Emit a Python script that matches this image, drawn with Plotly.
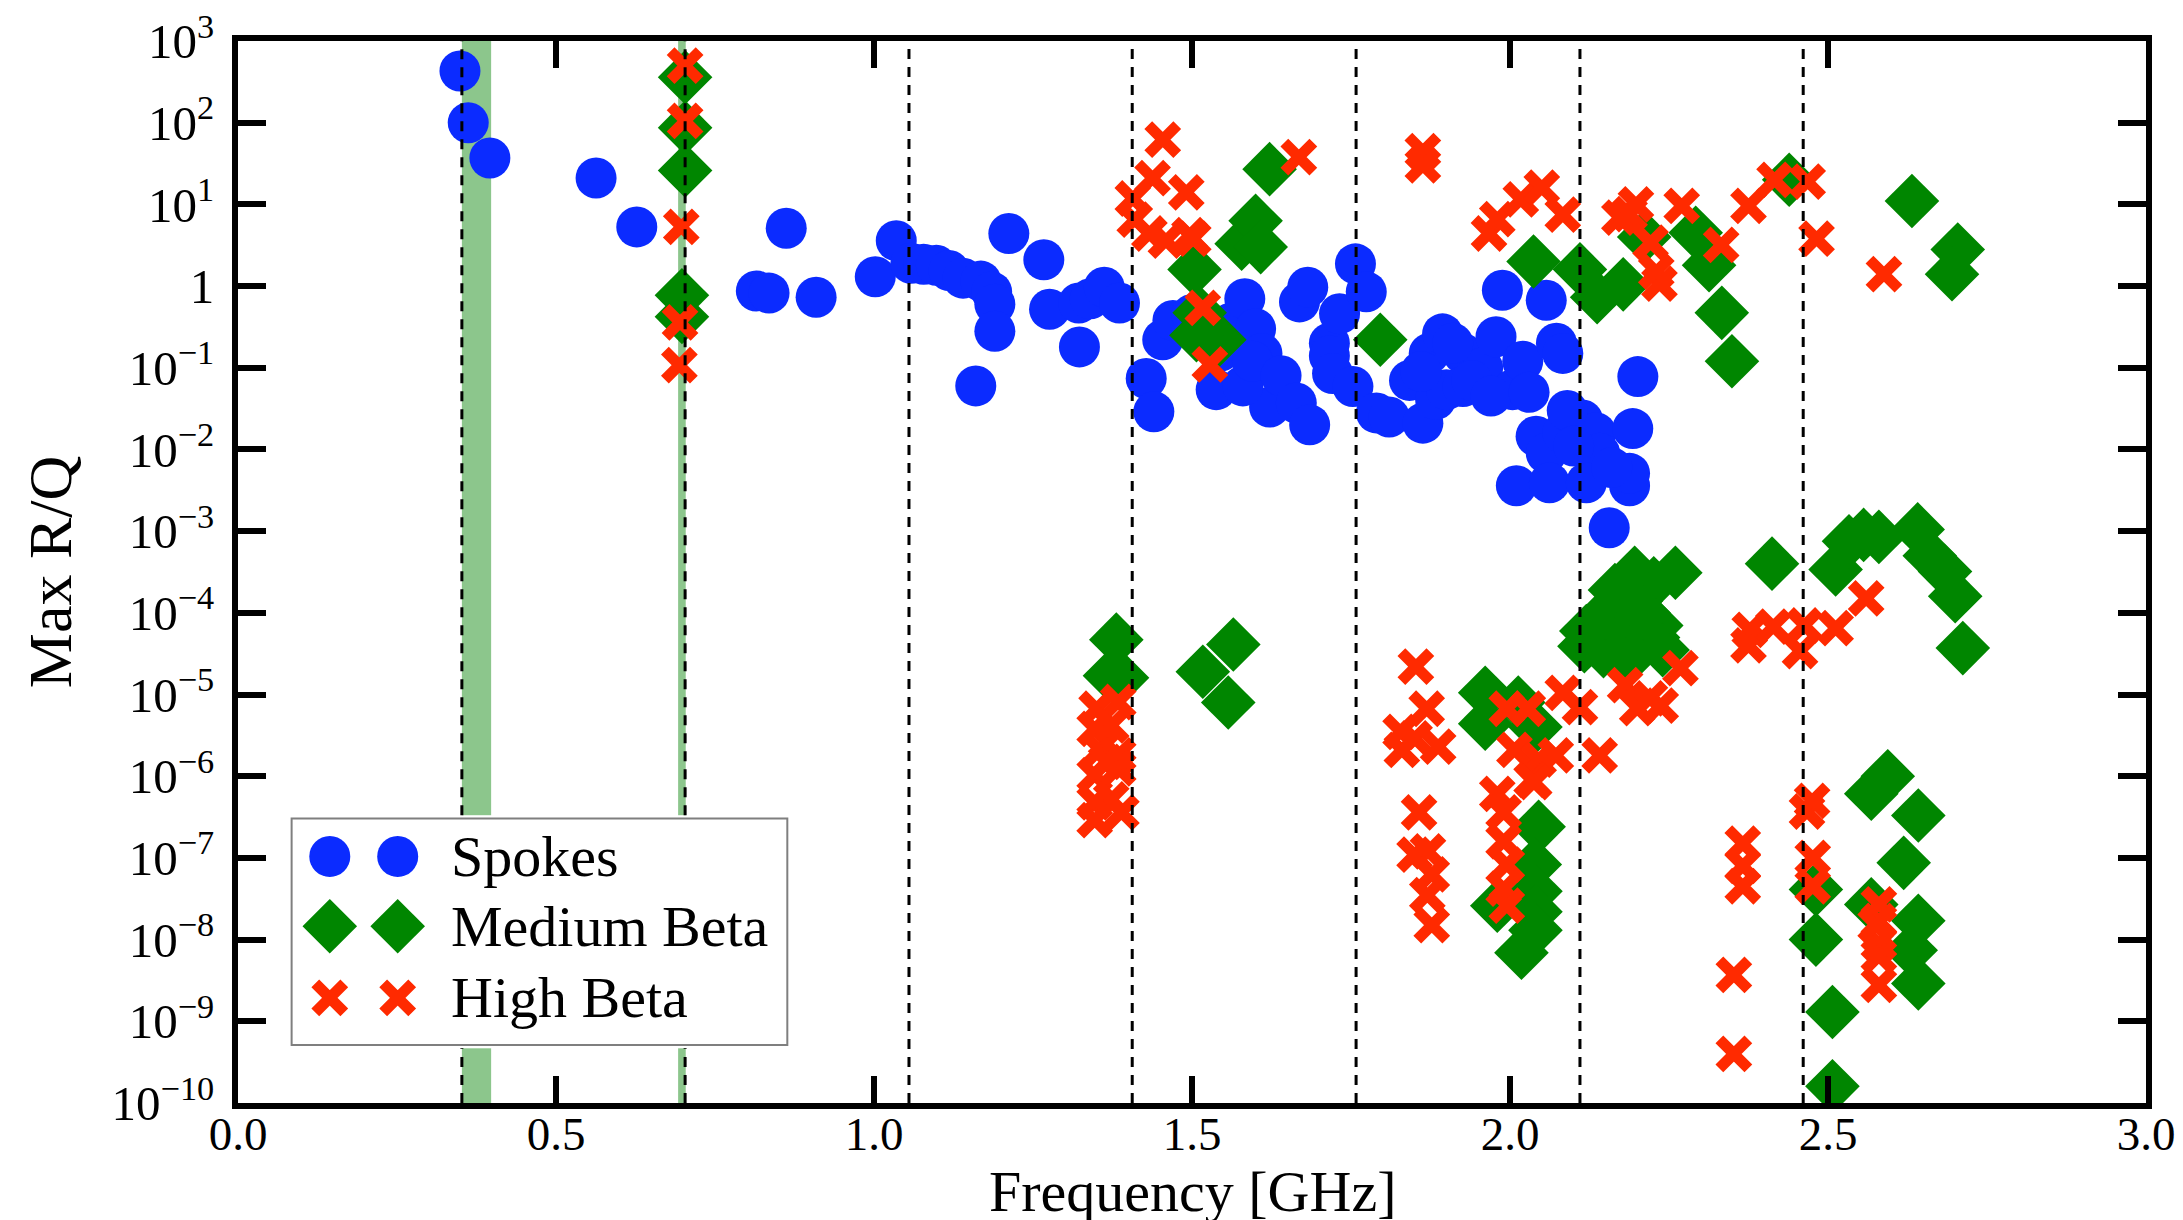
import plotly.graph_objects as go

# ---------------- data ----------------
spokes_f = [0.349, 0.362, 0.396, 0.563, 0.627, 0.815, 0.835, 0.862, 0.909,
            1.002, 1.035, 1.058, 1.078, 1.098, 1.118, 1.140, 1.168, 1.185, 1.190, 1.190, 1.160,
            1.212, 1.267, 1.276, 1.322, 1.323, 1.340, 1.362, 1.386,
            1.428, 1.440, 1.454, 1.470, 1.500, 1.515, 1.538, 1.545, 1.560, 1.583, 1.600,
            1.610, 1.622, 1.580, 1.595, 1.640, 1.664, 1.669, 1.682, 1.685, 1.716, 1.716,
            1.721, 1.732, 1.753, 1.757, 1.774, 1.790, 1.810, 1.842, 1.863, 1.873, 1.883,
            1.894, 1.900, 1.926, 1.926, 1.957, 1.978, 1.988, 2.004, 2.020, 2.041, 2.057,
            2.057, 2.073, 2.083, 2.083, 2.114, 2.135, 2.141, 2.010, 2.062, 2.120, 2.188,
            2.188, 2.156, 2.201, 2.193, 1.860, 1.910, 1.940, 1.970, 2.030, 2.090, 2.100, 2.160]
spokes_rq = [430, 100, 37, 21, 5.3, 0.87, 0.82, 5.1, 0.73,
             1.3, 3.6, 1.9, 1.85, 1.8, 1.55, 1.25, 1.15, 0.85, 0.6, 0.28, 0.06,
             4.4, 2.1, 0.52, 0.62, 0.18, 0.7, 0.97, 0.62,
             0.074, 0.029, 0.22, 0.38, 0.45, 0.25, 0.054, 0.16, 0.35, 0.7, 0.3,
             0.15, 0.033, 0.06, 0.12, 0.08, 0.037, 0.64, 0.97, 0.02, 0.2, 0.14,
             0.085, 0.46, 0.059, 1.87, 0.85, 0.028, 0.025, 0.07, 0.021, 0.15, 0.041,
             0.26, 0.054, 0.15, 0.059, 0.10, 0.24, 0.89, 0.054, 0.12, 0.0145, 0.67,
             0.009, 0.2, 0.15, 0.016, 0.023, 0.016, 0.009, 0.0036, 0.0039, 0.0039, 0.0036,
             0.0051, 0.0011, 0.078, 0.018, 0.09, 0.2, 0.07, 0.045, 0.05, 0.03, 0.011, 0.006]

medium_f = [0.703, 0.703, 0.703, 0.698, 0.698,
            1.504, 1.512, 1.543, 1.507, 1.578, 1.600, 1.608, 1.622, 1.796,
            2.037, 2.110, 2.137, 2.178, 2.211, 2.292, 2.313, 2.333, 2.349,
            2.439, 2.632, 2.704, 2.695,
            1.381, 1.371, 1.390, 1.565, 1.517, 1.557,
            1.961, 1.961, 2.013, 2.040,
            2.045, 2.039, 2.040, 2.040, 2.040, 2.018, 1.980,
            2.117, 2.120, 2.147, 2.175, 2.198, 2.180, 2.204, 2.225, 2.196, 2.226, 2.260,
            2.180, 2.150, 2.165, 2.185, 2.210, 2.230, 2.240,
            2.412, 2.512, 2.533, 2.556, 2.580, 2.641, 2.660, 2.684, 2.700, 2.712,
            2.594, 2.568, 2.642, 2.619, 2.481, 2.568, 2.642, 2.630, 2.642, 2.481,
            2.507, 2.507]
medium_rq = [360, 87, 26, 0.77, 0.42,
             1.6, 0.47, 0.22, 0.25, 3.3, 6.3, 3.0, 27, 0.22,
             2.0, 1.6, 0.73, 1.05, 4.0, 4.5, 1.8, 0.47, 0.12,
             20, 11, 2.8, 1.4,
             4.7e-5, 1.7e-5, 1.6e-5, 4.1e-5, 1.9e-5, 8e-6,
             1.05e-5, 4.4e-6, 8e-6, 4e-6,
             2.4e-7, 8.3e-8, 3.9e-8, 2.2e-8, 1.3e-8, 6.9e-9, 2.6e-8,
             3.9e-5, 6e-5, 3.4e-5, 6.2e-5, 1.4e-4, 1.2e-4, 4.4e-5, 5e-5, 3.1e-4, 2.3e-4, 3.1e-4,
             2.4e-5, 1e-4, 1.9e-4, 2.5e-4, 1e-4, 7e-5, 3.5e-5,
             4e-4, 3.4e-4, 7.5e-4, 9e-4, 8.5e-4, 1.05e-3, 5e-4, 3.2e-4, 1.6e-4, 3.7e-5,
             1e-6, 6.1e-7, 3.3e-7, 8.7e-8, 4.1e-8, 2.7e-8, 1.7e-8, 7.4e-9, 2.9e-9, 1e-8,
             1.3e-9, 1.6e-10]

high_f = [0.703, 0.703, 0.697, 0.695, 0.694,
          1.407, 1.410, 1.433, 1.438, 1.454, 1.459, 1.491, 1.496, 1.502, 1.517, 1.528,
          1.668, 1.863, 1.863,
          1.967, 1.980, 2.017, 2.050, 2.083, 2.172, 2.188, 2.198, 2.221, 2.235, 2.230,
          2.270, 2.332, 2.375, 2.416, 2.468, 2.482, 2.588,
          1.350, 1.384, 1.347, 1.373, 1.355, 1.384, 1.347, 1.384, 1.347, 1.373, 1.347, 1.389, 1.365,
          1.852, 1.869, 1.828, 1.850, 1.887, 1.830, 1.857, 1.871, 1.850, 1.877, 1.870, 1.877,
          1.995, 2.028, 2.083, 2.110, 2.007, 2.045, 2.072, 2.034, 2.141, 1.980, 1.990,
          1.990, 1.995, 1.990, 1.995, 2.038,
          2.181, 2.220, 2.237, 2.268, 2.200,
          2.377, 2.375, 2.414, 2.456, 2.463, 2.512, 2.560,
          2.366, 2.366, 2.366, 2.352, 2.352, 2.467, 2.475, 2.476, 2.476,
          2.580, 2.580, 2.580, 2.580, 2.580, 2.575]
high_rq = [500, 105, 5.3, 0.36, 0.108,
           11.8, 6.5, 4.4, 21, 62, 3.6, 14, 4.2, 3.8, 0.54, 0.11,
           38, 45, 30,
           4.4, 6.6, 11.5, 16, 7.5, 6.9, 7.6, 10, 3.4, 1.07, 1.5,
           9.6, 3.2, 9.6, 20, 19, 3.8, 1.4,
           6.7e-6, 8.1e-6, 3.8e-6, 4.2e-6, 2.1e-6, 1.8e-6, 1.03e-6, 1.25e-6, 4.8e-7, 5.2e-7, 2.9e-7, 3.6e-7, 1.5e-6,
           2.2e-5, 6.7e-6, 3.5e-6, 2.9e-6, 2.3e-6, 2.1e-6, 3.6e-7, 1.2e-7, 1.1e-7, 6.3e-8, 3.5e-8, 1.5e-8,
           6.7e-6, 6.7e-6, 1.05e-5, 7e-6, 2.1e-6, 1.6e-6, 1.8e-6, 9e-7, 1.8e-6, 6.1e-7, 3.6e-7,
           1.6e-7, 8.3e-8, 4.2e-8, 2.6e-8, 8.5e-7,
           1.3e-5, 9e-6, 7.3e-6, 2.1e-5, 6.8e-6,
           6.2e-5, 4e-5, 6.8e-5, 3.4e-5, 7e-5, 6.5e-5, 1.5e-4,
           1.5e-7, 4.5e-8, 8e-8, 3.7e-9, 4e-10, 3.7e-7, 5e-7, 1e-7, 4.5e-8,
           2.7e-8, 1.7e-8, 9e-9, 6.3e-9, 2.8e-9, 1.5e-8]

# 352 MHz harmonics (dashed lines) and shaded bands
harmonics = [0.352, 0.703, 1.055, 1.406, 1.758, 2.110, 2.461]
bands = [(0.352, 0.398), (0.692, 0.704)]

series_names = ["Spokes", "Medium Beta", "High Beta"]
x_ticks = [0.0, 0.5, 1.0, 1.5, 2.0, 2.5, 3.0]
y_exps = list(range(-10, 4))
X_RANGE = [0, 3]
X_TITLE = "Frequency [GHz]"
Y_TITLE = "Max R/Q"

# ---------------- styling ----------------
BLUE = "#0b2bff"
GREEN = "#008600"
RED = "#ff2a00"
FONT = "Liberation Serif"

def y_label(e):
    if e == 0:
        return "1"
    return "10<sup>%s</sup>" % (str(e).replace("-", "\u2212"))

marker_styles = [
    dict(symbol="circle", size=41, color=BLUE, line=dict(width=0)),
    dict(symbol="diamond", size=42, color=GREEN, line=dict(width=0)),
    dict(symbol="x-thin", size=29, color=RED, line=dict(width=11, color=RED)),
]

fig = go.Figure()
for name, xs, ys, ms in zip(series_names, [spokes_f, medium_f, high_f],
                            [spokes_rq, medium_rq, high_rq], marker_styles):
    fig.add_trace(go.Scatter(x=xs, y=ys, mode="markers", name=name,
                             marker=ms, showlegend=False))

# legend box placement (paper fraction of the plot area)
LEG_X = [0.0255, 0.2905]
LEG_Y = [0.0515, 0.271]

shapes = []
for (a, b) in bands:
    shapes.append(dict(type="rect", xref="x", yref="paper", x0=a, x1=b, y0=0, y1=1,
                       fillcolor="rgba(0,128,0,0.45)", line=dict(width=0), layer="below"))
for h in harmonics:
    px = (h - X_RANGE[0]) / (X_RANGE[1] - X_RANGE[0])
    if LEG_X[0] < px < LEG_X[1]:
        spans = [(0, LEG_Y[0]), (LEG_Y[1], 1)]
    else:
        spans = [(0, 1)]
    for (y0, y1) in spans:
        shapes.append(dict(type="line", xref="x", yref="paper", x0=h, x1=h, y0=y0, y1=y1,
                           line=dict(color="black", width=3, dash="10px,8px"), layer="above"))

# ---------------- legend drawn like matplotlib (two glyphs per entry) ----------------
shapes.append(dict(type="rect", xref="x2", yref="y2", x0=0, x1=1, y0=0, y1=1,
                   fillcolor="white", line=dict(color="#7f7f7f", width=2), layer="below"))
glyph_cols = [0.077, 0.214]
rows = [0.833, 0.524, 0.208]
annotations = []
for name, ms, ry in zip(series_names, marker_styles, rows):
    fig.add_trace(go.Scatter(x=glyph_cols, y=[ry, ry], mode="markers", marker=ms,
                             xaxis="x2", yaxis="y2", showlegend=False, hoverinfo="skip"))
    annotations.append(dict(x=0.318, y=ry, xref="x2", yref="y2", text=name, showarrow=False,
                            xanchor="left", yanchor="middle",
                            font=dict(family=FONT, size=58, color="black")))

# x-axis title placed as a paper annotation so it sits close under the tick labels
annotations.append(dict(x=0.5, y=-0.083, xref="paper", yref="paper", text=X_TITLE,
                        showarrow=False, xanchor="center", yanchor="middle",
                        font=dict(family=FONT, size=58, color="black")))

fig.update_layout(
    width=2183, height=1220,
    margin=dict(l=230, r=45, t=33, b=125, autoexpand=False),
    paper_bgcolor="white", plot_bgcolor="white",
    font=dict(family=FONT, color="black"),
    shapes=shapes, annotations=annotations,
    xaxis=dict(range=X_RANGE, tickvals=x_ticks, ticktext=["%.1f" % v for v in x_ticks],
               showgrid=False, zeroline=False, showline=True, linewidth=6, linecolor="black",
               mirror="ticks", ticks="inside", ticklen=27, tickwidth=6, tickcolor="black",
               tickfont=dict(family=FONT, size=47), ticklabelstandoff=-15,
               ticklabeloverflow="allow", automargin=False),
    yaxis=dict(type="log", range=[-10, 3], tickvals=[10.0 ** e for e in y_exps],
               ticktext=[y_label(e) for e in y_exps],
               showgrid=False, zeroline=False, showline=True, linewidth=6, linecolor="black",
               mirror="ticks", ticks="inside", ticklen=28, tickwidth=6, tickcolor="black",
               tickfont=dict(family=FONT, size=49), ticklabelstandoff=8,
               ticklabeloverflow="allow",
               title=dict(text=Y_TITLE, font=dict(family=FONT, size=62), standoff=22),
               automargin=False),
    xaxis2=dict(domain=LEG_X, range=[-0.01, 1.01], visible=False, anchor="y2", fixedrange=True),
    yaxis2=dict(domain=LEG_Y, range=[-0.015, 1.015], visible=False, anchor="x2", fixedrange=True),
)

fig.write_html("out.html")
